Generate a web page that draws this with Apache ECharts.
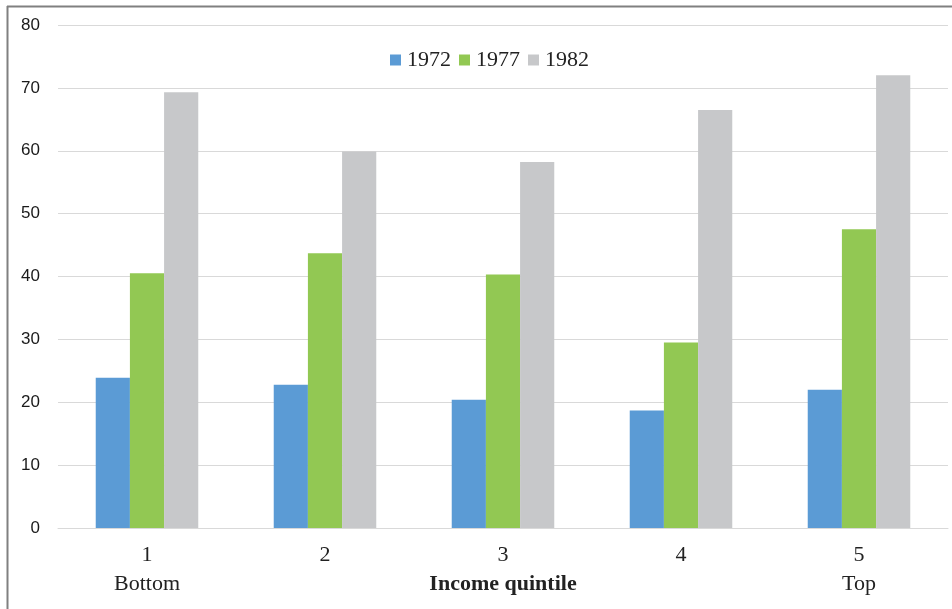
<!DOCTYPE html>
<html>
<head>
<meta charset="utf-8">
<script src="https://cdn.jsdelivr.net/npm/echarts@6/dist/echarts.min.js"></script>
<style>
  html, body { margin: 0; padding: 0; background: #fff; }
  #chart { width: 952px; height: 609px; }
</style>
</head>
<body>
<div id="chart"></div>
<script>
// Income quintiles (1 = bottom, 5 = top)
const quintiles = ['1', '2', '3', '4', '5'];
const quintileNotes = ['Bottom', '', 'Income quintile', '', 'Top'];
const seriesNames = ['1972', '1977', '1982'];
const values1972 = [23.9, 22.8, 20.4, 18.7, 22.0];
const values1977 = [40.5, 43.7, 40.3, 29.5, 47.5];
const values1982 = [69.3, 59.9, 58.2, 66.5, 72.0];
const yTicks = { min: 0, max: 80, interval: 10 };

const colors = ['#5b9bd5', '#92c853', '#c7c8ca'];
const serif = '"Liberation Serif", "DejaVu Serif", serif';
const sans = '"Liberation Sans", Arial, sans-serif';

const chart = echarts.init(document.getElementById('chart'), null, { renderer: 'canvas' });

const allValues = [values1972, values1977, values1982];

chart.setOption({
  animation: false,
  backgroundColor: '#ffffff',
  color: colors,
  grid: { left: 58, right: 4, top: 25, bottom: 81, containLabel: false },
  legend: {
    data: seriesNames,
    left: 390,
    top: 49,
    padding: 0,
    icon: 'rect',
    itemWidth: 11,
    itemHeight: 11,
    itemGap: 8,
    textStyle: { fontFamily: serif, fontSize: 22, color: '#222', padding: [0, 0, 0, 1] }
  },
  xAxis: {
    type: 'category',
    data: quintiles,
    axisLine: { show: true, lineStyle: { color: '#d9d9d9', width: 1 } },
    axisTick: { show: false },
    axisLabel: {
      margin: 14,
      interval: 0,
      formatter: function (value, idx) {
        const note = quintileNotes[idx];
        const style = note === 'Income quintile' ? 'b' : 's';
        return '{n|' + value + '}\n{' + style + '|' + (note || ' ') + '}';
      },
      rich: {
        n: { fontFamily: serif, fontSize: 22, color: '#222', lineHeight: 26 },
        s: { fontFamily: serif, fontSize: 22, color: '#222', lineHeight: 32 },
        b: { fontFamily: serif, fontSize: 22, fontWeight: 'bold', color: '#222', lineHeight: 32 }
      }
    }
  },
  yAxis: {
    type: 'value',
    min: yTicks.min,
    max: yTicks.max,
    interval: yTicks.interval,
    axisLine: { show: false },
    axisTick: { show: false },
    splitLine: { lineStyle: { color: '#d9d9d9', width: 1 } },
    axisLabel: { margin: 18, fontFamily: sans, fontSize: 17, color: '#1a1a1a' }
  },
  series: seriesNames.map(function (name, i) {
    return {
      name: name,
      type: 'bar',
      data: allValues[i],
      barGap: '0%',
      barCategoryGap: '42.4%',
      itemStyle: { color: colors[i] }
    };
  }),
  graphic: [
    { type: 'line', shape: { x1: 7, y1: 6.5, x2: 952, y2: 6.5 }, style: { stroke: '#808080', lineWidth: 2 }, silent: true },
    { type: 'line', shape: { x1: 7.5, y1: 6, x2: 7.5, y2: 609 }, style: { stroke: '#808080', lineWidth: 2 }, silent: true }
  ]
});
</script>
</body>
</html>
